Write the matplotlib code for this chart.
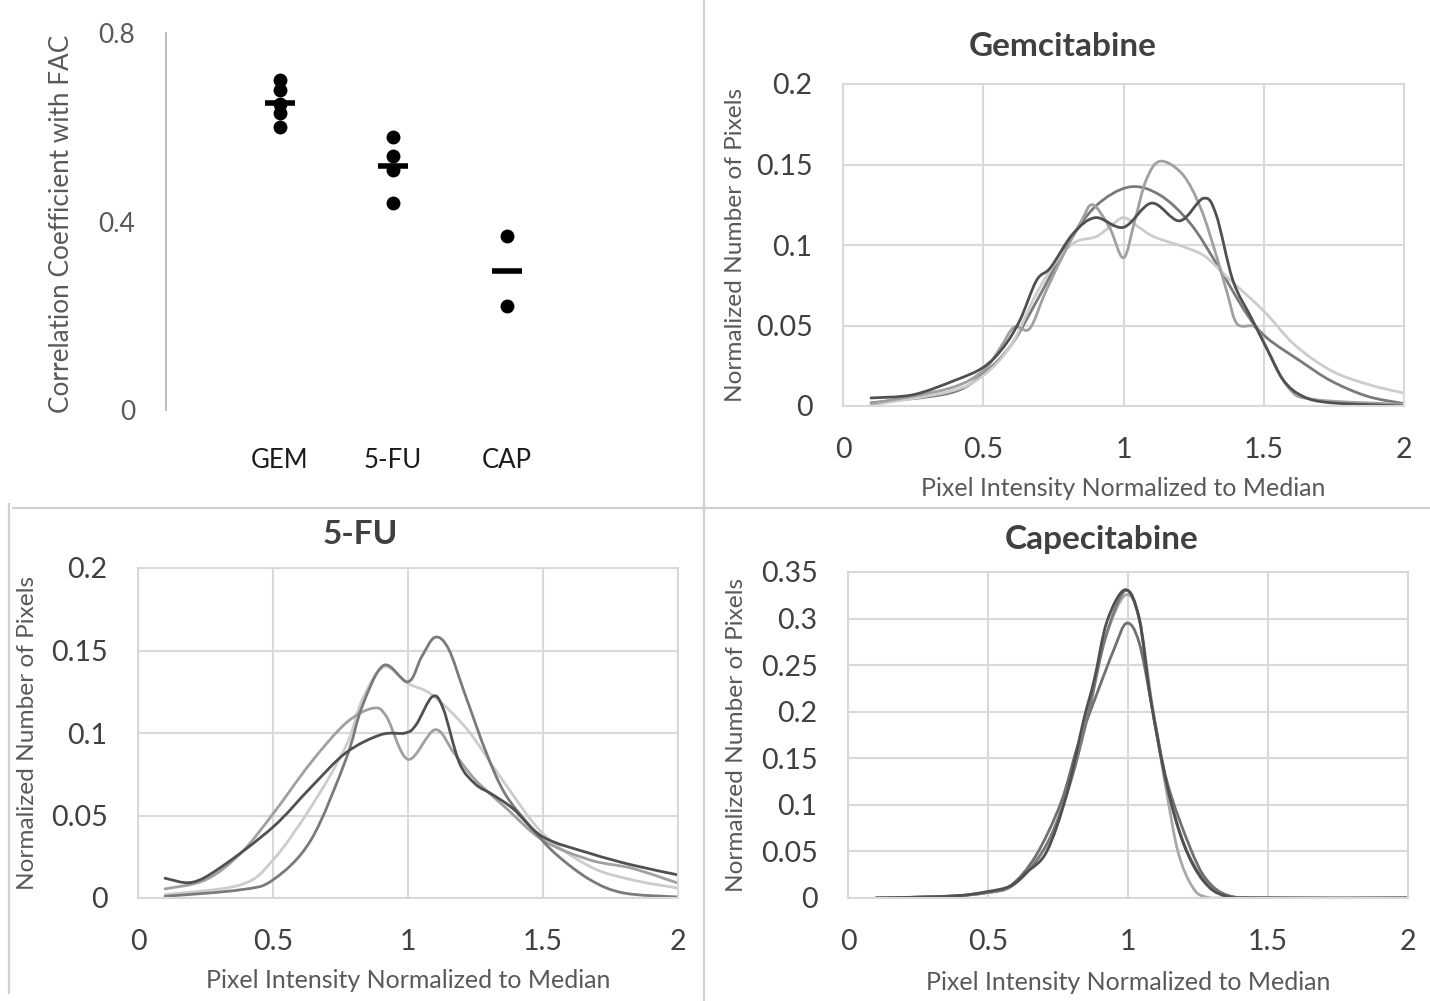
import numpy as np
import matplotlib
matplotlib.use("Agg")
import matplotlib.pyplot as plt
from matplotlib.path import Path
from matplotlib.patches import PathPatch
from matplotlib.lines import Line2D

plt.rcParams['font.family'] = ['Lato', 'DejaVu Sans']

# correlation with FAC, one dot per sample
cats = ["GEM", "5-FU", "CAP"]
gem_r = [0.70, 0.68, 0.65, 0.63, 0.60]
fu_r = [0.58, 0.54, 0.51, 0.44]
cap_r = [0.37, 0.22]

# Gemcitabine histograms
gem_a_x = [0.1, 0.38, 0.5, 0.56, 0.61, 0.665, 0.72, 0.78, 0.85, 0.89, 0.95, 1.0, 1.04, 1.08, 1.13, 1.21, 1.275, 1.33, 1.37, 1.405, 1.47, 1.51, 1.59, 1.68, 2.0]
gem_a_y = [0.0015, 0.011, 0.022, 0.036, 0.049, 0.048, 0.07, 0.092, 0.115, 0.125, 0.111, 0.092, 0.115, 0.14, 0.152, 0.144, 0.123, 0.094, 0.07, 0.051, 0.049, 0.036, 0.011, 0.004, 0.001]
gem_b_x = [0.1, 0.25, 0.4, 0.5, 0.57, 0.63, 0.69, 0.74, 0.82, 0.9, 1.0, 1.1, 1.2, 1.285, 1.33, 1.39, 1.455, 1.51, 1.57, 1.64, 1.74, 2.0]
gem_b_y = [0.005, 0.007, 0.016, 0.024, 0.036, 0.053, 0.078, 0.086, 0.107, 0.117, 0.111, 0.126, 0.115, 0.129, 0.119, 0.078, 0.055, 0.036, 0.016, 0.006, 0.002, 0.0]
gem_c_x = [0.1, 0.38, 0.5, 0.6, 0.69, 0.8, 0.9, 1.02, 1.13, 1.24, 1.34, 1.44, 1.51, 1.63, 1.74, 1.87, 2.0]
gem_c_y = [0.002, 0.008, 0.02, 0.038, 0.065, 0.1, 0.124, 0.136, 0.131, 0.113, 0.086, 0.057, 0.0425, 0.028, 0.0156, 0.006, 0.0015]
gem_d_x = [0.1, 0.38, 0.5, 0.6, 0.69, 0.77, 0.83, 0.9, 0.95, 1.0, 1.055, 1.11, 1.22, 1.29, 1.37, 1.5, 1.61, 1.74, 1.87, 2.0]
gem_d_y = [0.0006, 0.009, 0.019, 0.038, 0.07, 0.092, 0.102, 0.105, 0.111, 0.117, 0.111, 0.105, 0.0985, 0.093, 0.08, 0.059, 0.038, 0.022, 0.0135, 0.008]

# 5-FU histograms
fu_p_x = [0.1, 0.38, 0.5, 0.64, 0.77, 0.83, 0.91, 1.0, 1.05, 1.1, 1.15, 1.21, 1.29, 1.36, 1.455, 1.545, 1.675, 1.8, 2.0]
fu_p_y = [0.001, 0.005, 0.011, 0.035, 0.084, 0.116, 0.141, 0.131, 0.146, 0.158, 0.151, 0.124, 0.088, 0.063, 0.043, 0.027, 0.011, 0.003, 0.0006]
fu_q_x = [0.1, 0.2, 0.31, 0.5, 0.64, 0.77, 0.9, 0.99, 1.03, 1.09, 1.13, 1.19, 1.25, 1.31, 1.39, 1.5, 1.675, 1.83, 2.0]
fu_q_y = [0.012, 0.0095, 0.019, 0.043, 0.067, 0.088, 0.099, 0.1, 0.105, 0.122, 0.115, 0.082, 0.069, 0.063, 0.054, 0.037, 0.027, 0.020, 0.014]
fu_r_x = [0.1, 0.25, 0.38, 0.5, 0.64, 0.77, 0.87, 0.92, 1.0, 1.1, 1.17, 1.25, 1.36, 1.5, 1.675, 1.83, 2.0]
fu_r_y = [0.0055, 0.011, 0.027, 0.051, 0.082, 0.106, 0.115, 0.11, 0.084, 0.102, 0.088, 0.0715, 0.055, 0.035, 0.023, 0.018, 0.009]
fu_s_x = [0.1, 0.38, 0.5, 0.64, 0.77, 0.83, 0.91, 1.0, 1.09, 1.22, 1.35, 1.5, 1.675, 1.83, 2.0]
fu_s_y = [0.002, 0.008, 0.023, 0.055, 0.092, 0.12, 0.14, 0.13, 0.123, 0.102, 0.0715, 0.039, 0.019, 0.011, 0.006]

# Capecitabine histograms
cap_a_x = [0.1, 0.37, 0.5, 0.58, 0.64, 0.71, 0.78, 0.84, 0.88, 0.925, 0.99, 1.04, 1.08, 1.14, 1.2, 1.27, 1.35, 1.5, 2.0]
cap_a_y = [0.0, 0.002, 0.007, 0.013, 0.028, 0.05, 0.11, 0.189, 0.235, 0.297, 0.331, 0.3, 0.215, 0.12, 0.057, 0.018, 0.002, 0.0, 0.0]
cap_b_x = [0.1, 0.37, 0.5, 0.58, 0.66, 0.73, 0.8, 0.86, 0.92, 0.99, 1.04, 1.08, 1.14, 1.2, 1.27, 1.35, 1.5, 2.0]
cap_b_y = [0.0, 0.002, 0.006, 0.012, 0.035, 0.07, 0.13, 0.2, 0.28, 0.33, 0.3, 0.215, 0.12, 0.058, 0.02, 0.003, 0.0, 0.0]
cap_c_x = [0.1, 0.37, 0.5, 0.58, 0.66, 0.73, 0.8, 0.86, 0.92, 0.99, 1.04, 1.09, 1.14, 1.18, 1.23, 1.28, 1.4, 2.0]
cap_c_y = [0.0, 0.002, 0.006, 0.012, 0.035, 0.07, 0.13, 0.205, 0.28, 0.325, 0.3, 0.2, 0.11, 0.048, 0.012, 0.001, 0.0, 0.0]
cap_d_x = [0.1, 0.37, 0.5, 0.58, 0.67, 0.76, 0.82, 0.886, 0.95, 0.995, 1.04, 1.09, 1.14, 1.22, 1.28, 1.36, 1.5, 2.0]
cap_d_y = [0.0, 0.002, 0.006, 0.013, 0.045, 0.102, 0.163, 0.217, 0.267, 0.295, 0.274, 0.199, 0.124, 0.0555, 0.02, 0.0025, 0.0, 0.0]

W, H = 1430, 1001
fig = plt.figure(figsize=(W / 100, H / 100), dpi=100)
fig.patch.set_facecolor("white")


def box(l, t, r, b):
    # pixel box -> figure fraction rect
    return [l / W, 1 - b / H, (r - l) / W, (b - t) / H]


def smooth_line(ax, xs, ys, color):
    # Excel style smoothed line (cubic bezier through the points)
    pts = np.column_stack([xs, ys])
    n = len(pts)
    verts = [pts[0]]
    codes = [Path.MOVETO]
    for i in range(n - 1):
        p0 = pts[max(i - 1, 0)]
        p1 = pts[i]
        p2 = pts[i + 1]
        p3 = pts[min(i + 2, n - 1)]
        verts += [p1 + (p2 - p0) / 6, p2 - (p3 - p1) / 6, p2]
        codes += [Path.CURVE4] * 3
    ax.add_patch(PathPatch(Path(verts, codes), fill=False, edgecolor=color,
                           lw=2.0, capstyle="round", joinstyle="round"))


def hist_panel(rect, ymax, ystep, curves, title, title_xy, ylab_x, xlab_y):
    ax = fig.add_axes(rect)
    for xs, ys, c in curves:
        smooth_line(ax, xs, ys, c)
    ax.set_xlim(0, 2)
    ax.set_ylim(0, ymax)
    ax.set_xticks([0, 0.5, 1, 1.5, 2])
    ax.set_xticklabels(["0", "0.5", "1", "1.5", "2"])
    yt = np.round(np.arange(0, ymax + 1e-9, ystep), 3)
    ax.set_yticks(yt)
    ax.set_yticklabels(["0"] + [("%g" % v) for v in yt[1:]])
    ax.grid(True, color="#d9d9d9", lw=1.5)
    ax.set_axisbelow(True)
    for s in ax.spines.values():
        s.set_color("#d9d9d9")
        s.set_linewidth(1.5)
    ax.tick_params(length=0, labelsize=20.5, labelcolor="#404040")
    ax.tick_params(axis="x", pad=22)
    ax.tick_params(axis="y", pad=22)
    l, b, w, h = rect
    fig.text(title_xy[0] / W, 1 - title_xy[1] / H, title, ha="center", va="center",
             fontsize=24, fontweight="bold", color="#404040")
    fig.text(l + w / 2, 1 - xlab_y / H, "Pixel Intensity Normalized to Median",
             ha="center", va="center", fontsize=18, color="#595959")
    fig.text(ylab_x / W, b + h / 2, "Normalized Number of Pixels", ha="center",
             va="center", rotation=90, fontsize=17.6, color="#595959")
    return ax


# top left: correlation dot plot
ax0 = fig.add_axes(box(166, 33, 620, 410))
pos = [1, 2, 3]
for p, vals in zip(pos, [gem_r, fu_r, cap_r]):
    ax0.plot([p] * len(vals), vals, "o", color="black", ms=10, mew=0)
    ax0.plot([p], [np.mean(vals)], marker="_", color="black", ms=22, mew=4)
ax0.set_xlim(0, 4)
ax0.set_ylim(0, 0.8)
ax0.set_yticks([0, 0.4, 0.8])
ax0.set_yticklabels(["0", "0.4", "0.8"])
ax0.set_xticks(pos)
ax0.set_xticklabels(cats)
for side in ["top", "right", "bottom"]:
    ax0.spines[side].set_visible(False)
ax0.spines["left"].set_color("#bfbfbf")
ax0.spines["left"].set_linewidth(1.5)
ax0.tick_params(length=0)
ax0.tick_params(axis="y", labelsize=19, labelcolor="#595959", pad=22)
ax0.tick_params(axis="x", labelsize=18.5, labelcolor="#1a1a1a", pad=27)
fig.text(62 / W, 1 - 224 / H, "Correlation Coefficient with FAC", rotation=90,
         ha="center", va="center", fontsize=18.8, color="#595959")

hist_panel(box(843, 84, 1404, 406), 0.2, 0.05,
           [(gem_c_x, gem_c_y, "#7a7a7a"), (gem_d_x, gem_d_y, "#cccccc"),
            (gem_a_x, gem_a_y, "#a0a0a0"), (gem_b_x, gem_b_y, "#505050")],
           "Gemcitabine", (1063, 46), 735, 489)

hist_panel(box(138, 568, 678, 898), 0.2, 0.05,
           [(fu_s_x, fu_s_y, "#cccccc"), (fu_r_x, fu_r_y, "#a0a0a0"),
            (fu_p_x, fu_p_y, "#7a7a7a"), (fu_q_x, fu_q_y, "#505050")],
           "5-FU", (360, 534), 28, 980)

hist_panel(box(848, 572, 1408, 898), 0.35, 0.05,
           [(cap_d_x, cap_d_y, "#707070"), (cap_c_x, cap_c_y, "#a8a8a8"),
            (cap_b_x, cap_b_y, "#7a7a7a"), (cap_a_x, cap_a_y, "#505050")],
           "Capecitabine", (1102, 539), 737, 983)

# panel separators
sep = "#d0d0d0"
fig.add_artist(Line2D([704 / W, 704 / W], [0, 1], color=sep, lw=1.6))
fig.add_artist(Line2D([13 / W, 1], [1 - 508 / H, 1 - 508 / H], color=sep, lw=1.6))
fig.add_artist(Line2D([9 / W, 9 / W], [1 - 504 / H, 1 - 993 / H], color=sep, lw=1.6))

fig.savefig("out.png", dpi=100, facecolor="white")
